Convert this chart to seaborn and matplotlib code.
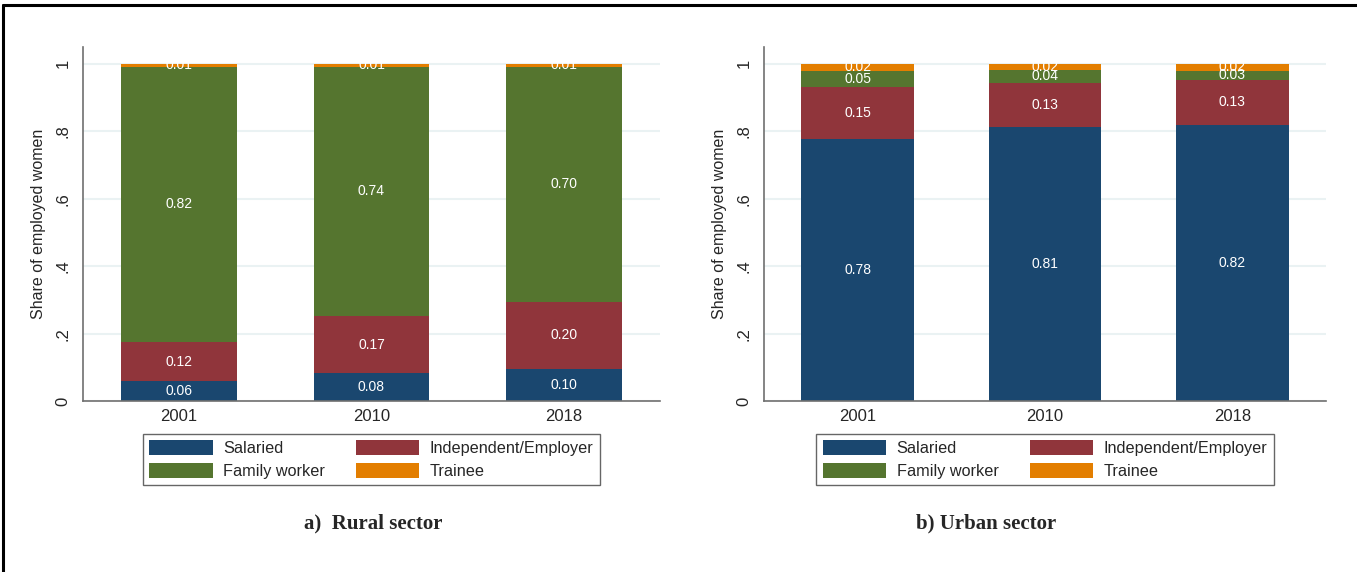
import numpy as np
import pandas as pd
import matplotlib.pyplot as plt
import seaborn as sns
from matplotlib.lines import Line2D
from matplotlib.patches import Patch

years = ["2001", "2010", "2018"]
categories = ["Salaried", "Independent/Employer", "Family worker", "Trainee"]
colors = ["#1a476f", "#90353b", "#55752f", "#e37e00"]

# shares by category (rural / urban)
rural_salaried = [0.058, 0.082, 0.096]
rural_independent = [0.117, 0.171, 0.199]
rural_family = [0.816, 0.738, 0.696]
rural_trainee = [0.009, 0.009, 0.009]

urban_salaried = [0.777, 0.813, 0.819]
urban_independent = [0.154, 0.131, 0.133]
urban_family = [0.048, 0.038, 0.028]
urban_trainee = [0.021, 0.018, 0.020]

ytick_vals = [0, 0.2, 0.4, 0.6, 0.8, 1.0]
ytick_labels = ["0", ".2", ".4", ".6", ".8", "1"]

sns.set_style("white")
plt.rcParams["font.family"] = ["Liberation Sans", "DejaVu Sans"]

fig = plt.figure(figsize=(13.57, 5.72), dpi=100)
W, H = 1357, 572
ax1 = fig.add_axes([83 / W, 1 - 401 / H, 577 / W, 354 / H])
ax2 = fig.add_axes([764 / W, 1 - 401 / H, 562 / W, 354 / H])


def draw_panel(ax, series):
    df = pd.DataFrame({"year": years})
    for name, vals in zip(categories, series):
        df[name] = vals
    cum = df[categories].cumsum(axis=1)
    # draw from the top of the stack down so lower layers cover upper ones
    for name, col in reversed(list(zip(categories, colors))):
        sns.barplot(x=df["year"], y=cum[name], color=col, saturation=1,
                    width=0.6, ax=ax, edgecolor="none", zorder=2)
    for i in range(len(years)):
        base = 0
        for name in categories:
            v = df.loc[i, name]
            ax.text(i, base + v / 2, f"{v:.2f}", ha="center", va="center",
                    color="white", fontsize=10, zorder=5)
            base += v
    ax.set_xlim(-0.5, 2.5)
    ax.set_ylim(0, 1.05)
    ax.set_yticks(ytick_vals)
    ax.set_yticklabels(ytick_labels, rotation=90, va="center", fontsize=12)
    ax.tick_params(axis="y", length=5, color="#707070", pad=4)
    ax.tick_params(axis="x", length=0, labelsize=12, pad=6)
    ax.grid(axis="y", color="#eaf2f3", lw=1.5, zorder=0)
    ax.set_axisbelow(True)
    ax.set_xlabel("")
    ax.set_ylabel("Share of employed women", fontsize=11.5, labelpad=7)
    for s in ["top", "right"]:
        ax.spines[s].set_visible(False)
    for s in ["left", "bottom"]:
        ax.spines[s].set_color("#707070")
        ax.spines[s].set_linewidth(1.2)
    # legend fills by column, so order gives rows: Salaried|Independent, Family|Trainee
    order = [0, 2, 1, 3]
    handles = [Patch(facecolor=colors[k], edgecolor="none") for k in order]
    labels = [categories[k] for k in order]
    leg = ax.legend(handles, labels, ncol=2, loc="upper center",
                    bbox_to_anchor=(0.5, -0.093), borderaxespad=0, fontsize=11.7,
                    handlelength=3.9, handleheight=1.0, columnspacing=1.9,
                    handletextpad=0.65, labelspacing=0.42, borderpad=0.4,
                    fancybox=False, frameon=True)
    leg.get_frame().set_edgecolor("#404040")
    leg.get_frame().set_linewidth(1.0)


draw_panel(ax1, [rural_salaried, rural_independent, rural_family, rural_trainee])
draw_panel(ax2, [urban_salaried, urban_independent, urban_family, urban_trainee])

fig.text(373 / W, 1 - 523 / H, "a)  Rural sector", ha="center", va="center",
         fontsize=15, fontweight="bold", family="Liberation Serif")
fig.text(986 / W, 1 - 523 / H, "b) Urban sector", ha="center", va="center",
         fontsize=15, fontweight="bold", family="Liberation Serif")

# page border (left and top)
fig.add_artist(Line2D([2.5 / W, 2.5 / W], [0, 1 - 4.5 / H], color="black", lw=2.2))
fig.add_artist(Line2D([2.5 / W, 1], [1 - 4.5 / H, 1 - 4.5 / H], color="black", lw=2.2))

fig.savefig("out.png", dpi=100)
